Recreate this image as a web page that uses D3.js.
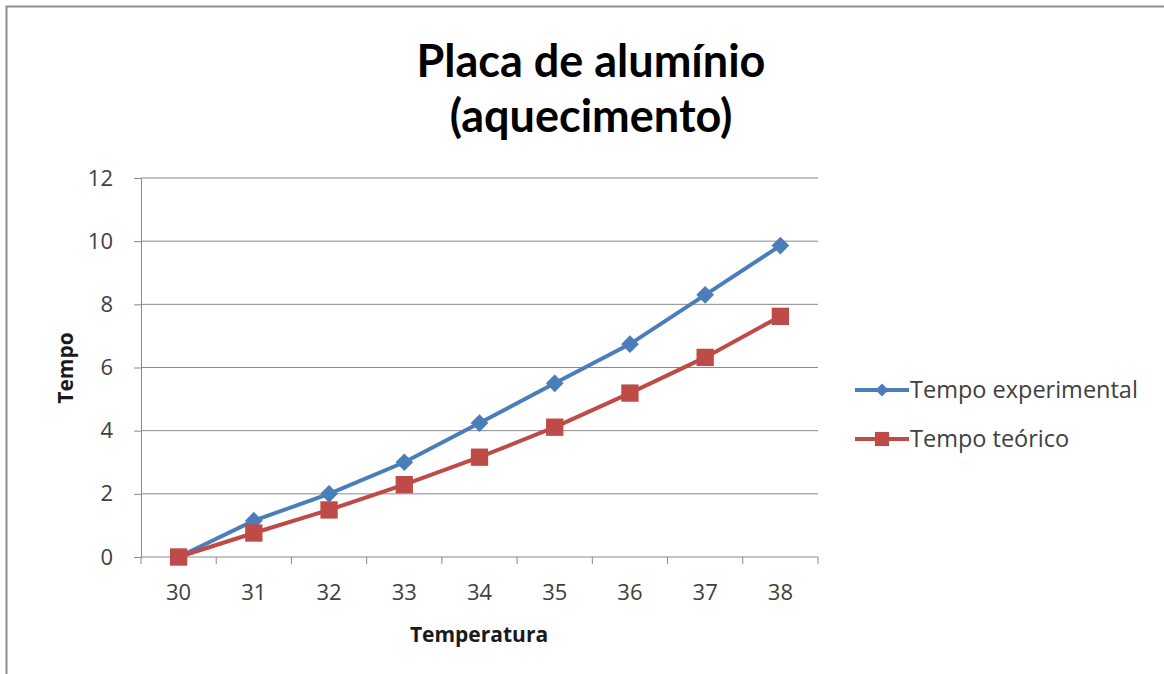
<!DOCTYPE html>
<html>
<head>
<meta charset="utf-8">
<script src="https://cdn.jsdelivr.net/npm/d3@7"></script>
<style>
  body { margin: 0; background: #fff; }
  text { font-family: "Open Sans", sans-serif; }
</style>
</head>
<body>
<div id="chart"></div>
<script>
var temperaturas = ["30", "31", "32", "33", "34", "35", "36", "37", "38"];
var tempoExperimental = [0, 1.15, 2.0, 3.0, 4.24, 5.5, 6.74, 8.3, 9.86];
var tempoTeorico = [0, 0.76, 1.49, 2.29, 3.16, 4.11, 5.19, 6.32, 7.62];
var yTicks = [0, 2, 4, 6, 8, 10, 12];
var seriesNames = ["Tempo experimental", "Tempo teórico"];

var width = 1164, height = 674;
var plotLeft = 141, plotRight = 818, plotTop = 178, plotBottom = 557;

var svg = d3.select("#chart").append("svg")
  .attr("width", width)
  .attr("height", height);

svg.append("rect")
  .attr("x", 6.5).attr("y", 6.5)
  .attr("width", 1170).attr("height", 700)
  .attr("fill", "#fff")
  .attr("stroke", "#8c8c8c")
  .attr("stroke-width", 2);

var x = d3.scaleBand().domain(temperaturas).range([plotLeft, plotRight]);
var y = d3.scaleLinear().domain([0, 12]).range([plotBottom, plotTop]);

// gridlines
svg.append("g").selectAll("line")
  .data(yTicks.slice(1))
  .enter().append("line")
    .attr("x1", plotLeft).attr("x2", plotRight)
    .attr("y1", function(d) { return y(d); })
    .attr("y2", function(d) { return y(d); })
    .attr("stroke", "#8a8a8a")
    .attr("stroke-width", 1);

// y axis
var yAxis = svg.append("g")
  .attr("transform", "translate(" + plotLeft + ",0)")
  .call(d3.axisLeft(y).tickValues(yTicks).tickSize(7).tickPadding(21));
yAxis.select(".domain").attr("stroke", "#8a8a8a");
yAxis.selectAll(".tick line").attr("stroke", "#8a8a8a");
yAxis.selectAll("text")
  .attr("font-size", 22).attr("fill", "#404040")
  .style("font-family", "'Open Sans', sans-serif");

// x axis: ticks between categories
var xAxis = svg.append("g")
  .attr("transform", "translate(0," + plotBottom + ")");
xAxis.append("line")
  .attr("x1", plotLeft).attr("x2", plotRight)
  .attr("stroke", "#8a8a8a");
var edges = temperaturas.map(function(d) { return x(d); }).concat([plotRight]);
xAxis.selectAll(".tk")
  .data(edges)
  .enter().append("line")
    .attr("x1", function(d) { return d; })
    .attr("x2", function(d) { return d; })
    .attr("y1", 0).attr("y2", 7)
    .attr("stroke", "#8a8a8a");
xAxis.selectAll("text")
  .data(temperaturas)
  .enter().append("text")
    .attr("x", function(d) { return x(d) + x.bandwidth() / 2; })
    .attr("y", 43)
    .attr("text-anchor", "middle")
    .attr("font-size", 22)
    .attr("fill", "#404040")
    .text(function(d) { return d; });

// axis titles
svg.append("text")
  .attr("x", 479).attr("y", 642)
  .attr("text-anchor", "middle")
  .attr("font-size", 21).attr("font-weight", "bold")
  .attr("fill", "#1a1a1a")
  .text("Temperatura");
svg.append("text")
  .attr("transform", "translate(73,368) rotate(-90)")
  .attr("text-anchor", "middle")
  .attr("font-size", 21).attr("font-weight", "bold")
  .attr("fill", "#1a1a1a")
  .text("Tempo");

// title
svg.append("text")
  .attr("x", 591).attr("y", 77)
  .attr("text-anchor", "middle")
  .attr("font-size", 45).attr("font-weight", "bold")
  .style("font-family", "Lato, sans-serif")
  .attr("fill", "#000")
  .text("Placa de alumínio");
svg.append("text")
  .attr("x", 591).attr("y", 132)
  .attr("text-anchor", "middle")
  .attr("font-size", 45).attr("font-weight", "bold")
  .style("font-family", "Lato, sans-serif")
  .attr("fill", "#000")
  .text("(aquecimento)");

var cx = function(i) { return x(temperaturas[i]) + x.bandwidth() / 2; };
var line = d3.line()
  .x(function(d, i) { return cx(i); })
  .y(function(d) { return y(d); });

var colors = ["#4a7ebb", "#be4b48"];
var diamond = d3.symbol().type(d3.symbolDiamond2).size(200);
var square = d3.symbol().type(d3.symbolSquare).size(300);

// experimental
svg.append("path")
  .datum(tempoExperimental)
  .attr("d", line)
  .attr("fill", "none")
  .attr("stroke", colors[0])
  .attr("stroke-width", 4);
svg.append("g").selectAll("path")
  .data(tempoExperimental)
  .enter().append("path")
    .attr("transform", function(d, i) { return "translate(" + cx(i) + "," + y(d) + ")"; })
    .attr("d", diamond)
    .attr("fill", colors[0]);

// teorico
svg.append("path")
  .datum(tempoTeorico)
  .attr("d", line)
  .attr("fill", "none")
  .attr("stroke", colors[1])
  .attr("stroke-width", 4);
svg.append("g").selectAll("path")
  .data(tempoTeorico)
  .enter().append("path")
    .attr("transform", function(d, i) { return "translate(" + cx(i) + "," + y(d) + ")"; })
    .attr("d", square)
    .attr("fill", colors[1]);

// legend
var legend = svg.append("g").selectAll("g")
  .data(seriesNames)
  .enter().append("g")
    .attr("transform", function(d, i) { return "translate(855," + (390 + i * 49) + ")"; });
legend.append("line")
  .attr("x1", 0).attr("x2", 54)
  .attr("stroke", function(d, i) { return colors[i]; })
  .attr("stroke-width", 4);
legend.append("path")
  .attr("transform", "translate(27,0)")
  .attr("d", function(d, i) { return i === 0 ? d3.symbol().type(d3.symbolDiamond2).size(110)() : d3.symbol().type(d3.symbolSquare).size(200)(); })
  .attr("fill", function(d, i) { return colors[i]; });
legend.append("text")
  .attr("x", 55).attr("y", 8)
  .attr("font-size", 23.5)
  .attr("fill", "#404040")
  .text(function(d) { return d; });
</script>
</body>
</html>
